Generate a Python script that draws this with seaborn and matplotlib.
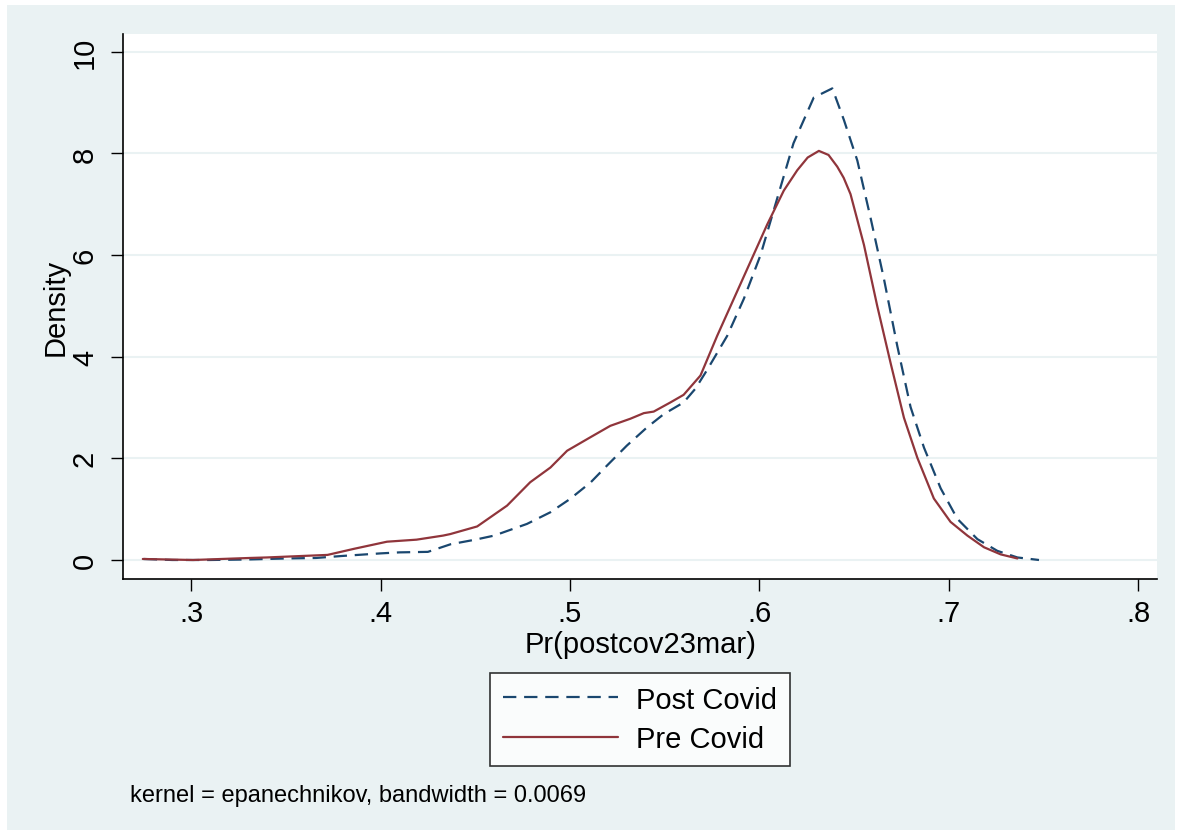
import numpy as np
import pandas as pd
import seaborn as sns
import matplotlib.pyplot as plt
from matplotlib.lines import Line2D
from matplotlib.patches import Rectangle

# kernel density curves
post_x = [0.275, 0.29, 0.31, 0.33, 0.35, 0.366, 0.38, 0.40, 0.41, 0.425, 0.437, 0.45,
          0.46, 0.4773, 0.4897, 0.50, 0.511, 0.5196, 0.530, 0.5407, 0.5495, 0.560,
          0.5662, 0.5724, 0.583, 0.5918, 0.6006, 0.6085, 0.618, 0.6287, 0.6385,
          0.6446, 0.6517, 0.6587, 0.6657, 0.6728, 0.6798, 0.6869, 0.6957, 0.7045,
          0.7151, 0.7256, 0.7362, 0.7476]
post_y = [0.02, 0.0, 0.0, 0.01, 0.03, 0.04, 0.08, 0.13, 0.15, 0.16, 0.31, 0.40,
          0.48, 0.71, 0.94, 1.20, 1.53, 1.86, 2.25, 2.61, 2.87, 3.10,
          3.37, 3.74, 4.41, 5.14, 6.00, 7.00, 8.20, 9.10, 9.28,
          8.66, 7.86, 6.73, 5.54, 4.21, 3.01, 2.21, 1.41, 0.81,
          0.41, 0.18, 0.05, 0.0]

pre_x = [0.2745, 0.301, 0.331, 0.34, 0.372, 0.386, 0.4034, 0.419, 0.433, 0.4368,
         0.451, 0.4668, 0.479, 0.4897, 0.4985, 0.511, 0.5213, 0.5319, 0.539, 0.5442,
         0.553, 0.560, 0.5689, 0.5777, 0.5865, 0.5953, 0.6041, 0.6129, 0.620, 0.6255,
         0.6314, 0.6365, 0.6411, 0.6445, 0.6481, 0.6552, 0.6622, 0.6693, 0.6763,
         0.6834, 0.6921, 0.7009, 0.7098, 0.7186, 0.7274, 0.7362]
pre_y = [0.02, 0.0, 0.04, 0.05, 0.10, 0.22, 0.36, 0.40, 0.48, 0.51,
         0.66, 1.07, 1.53, 1.82, 2.15, 2.42, 2.64, 2.78, 2.89, 2.92,
         3.10, 3.25, 3.63, 4.41, 5.14, 5.87, 6.60, 7.27, 7.67, 7.92,
         8.05, 7.97, 7.74, 7.52, 7.20, 6.20, 5.00, 3.87, 2.80,
         2.01, 1.21, 0.75, 0.48, 0.25, 0.11, 0.03]

series = ["Post Covid", "Pre Covid"]
x_ticks = [0.3, 0.4, 0.5, 0.6, 0.7, 0.8]
x_tick_labels = [".3", ".4", ".5", ".6", ".7", ".8"]
y_ticks = [0, 2, 4, 6, 8, 10]

df = pd.concat([
    pd.DataFrame({"x": post_x, "y": post_y, "group": series[0]}),
    pd.DataFrame({"x": pre_x, "y": pre_y, "group": series[1]}),
])

navy = "#1a476f"
maroon = "#90353b"
bg = "#eaf2f3"

sns.set_style("white")
plt.rcParams["font.family"] = ["Liberation Sans", "DejaVu Sans"]
plt.rcParams["text.color"] = "black"
plt.rcParams["axes.labelcolor"] = "black"
plt.rcParams["xtick.color"] = "black"
plt.rcParams["ytick.color"] = "black"

fig = plt.figure(figsize=(11.81, 8.37), dpi=100)
fig.patch.set_facecolor("white")
fig.patches.append(Rectangle((7 / 1181, 1 - 831 / 837), 1168 / 1181, 825 / 837,
                             transform=fig.transFigure, facecolor=bg,
                             edgecolor="none", zorder=-10))

ax = fig.add_axes([123.3 / 1181, 1 - 580 / 837, (1157 - 123.3) / 1181, 545 / 837])
ax.set_facecolor("white")

sns.lineplot(data=df, x="x", y="y", hue="group", style="group",
             palette={series[0]: navy, series[1]: maroon},
             dashes={series[0]: (6, 3.5), series[1]: ""},
             sort=False, estimator=None, linewidth=1.6, legend=False, ax=ax)

ax.set_xlim(0.2642, 0.8099)
ax.set_ylim(-0.374, 10.35)
ax.set_xticks(x_ticks)
ax.set_xticklabels(x_tick_labels)
ax.set_yticks(y_ticks)
ax.set_yticklabels([str(v) for v in y_ticks], rotation=90, va="center")
ax.tick_params(axis="both", labelsize=21, length=8.5, width=1, color="black",
               labelcolor="black", direction="out", left=True, bottom=True)
ax.tick_params(axis="y", pad=9)
ax.tick_params(axis="x", pad=6)

ax.grid(axis="y", color=bg, linewidth=1.5)
ax.grid(axis="x", visible=False)
ax.set_axisbelow(True)

for side in ["top", "right"]:
    ax.spines[side].set_visible(False)
for side in ["left", "bottom"]:
    ax.spines[side].set_color("black")
    ax.spines[side].set_linewidth(1.2)

ax.set_xlabel("Pr(postcov23mar)", fontsize=21, labelpad=2)
ax.set_ylabel("Density", fontsize=21, labelpad=1)

handles = [Line2D([0], [0], color=navy, lw=1.6, dashes=(6, 3.5)),
           Line2D([0], [0], color=maroon, lw=1.6)]
leg = fig.legend(handles, series, loc="center", bbox_to_anchor=(640 / 1181, 1 - 720.5 / 837),
                 fontsize=21, frameon=True, fancybox=False, handlelength=3.95,
                 handletextpad=0.62, borderpad=0.45, labelspacing=0.4,
                 borderaxespad=0)
leg.get_frame().set_edgecolor("black")
leg.get_frame().set_linewidth(1.2)

fig.text(130 / 1181, 1 - 796 / 837, "kernel = epanechnikov, bandwidth = 0.0069",
         fontsize=17, va="center", ha="left")

fig.savefig("out.png", dpi=100)
